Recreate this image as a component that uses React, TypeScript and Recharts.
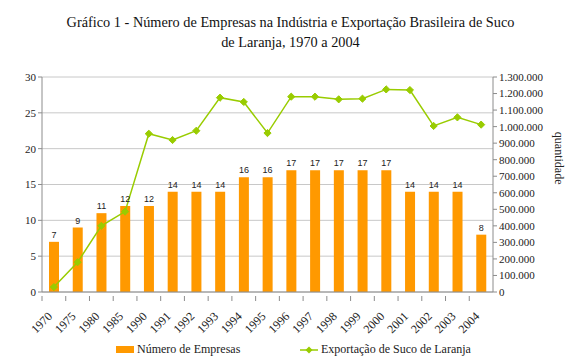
import {
  ComposedChart, Bar, Line, XAxis, YAxis, CartesianGrid, LabelList,
} from "recharts";

const years = [
  "1970", "1975", "1980", "1985", "1990", "1991", "1992", "1993", "1994", "1995",
  "1996", "1997", "1998", "1999", "2000", "2001", "2002", "2003", "2004",
];
const empresas = [7, 9, 11, 12, 12, 14, 14, 14, 16, 16, 17, 17, 17, 17, 17, 14, 14, 14, 8];
const exportacao = [
  30000, 180000, 400000, 486000, 957000, 919000, 975000, 1175000, 1149000, 961000,
  1181000, 1181000, 1165000, 1169000, 1225000, 1221000, 1004000, 1056000, 1012000,
];
const leftTicks = [0, 5, 10, 15, 20, 25, 30];
const rightTicks = [
  0, 100000, 200000, 300000, 400000, 500000, 600000,
  700000, 800000, 900000, 1000000, 1100000, 1200000, 1300000,
];

const ORANGE = "#FF9900";
const GREEN = "#99CC00";
const AXIS = "#8c8c8c";
const GRID = "#c8c8c8";
const SERIF = "'Liberation Serif', 'Times New Roman', serif";
const SANS = "'Liberation Sans', Arial, sans-serif";

const data = years.map((y, i) => ({ year: y, empresas: empresas[i], exportacao: exportacao[i] }));

const fmtThousands = (v: number) => String(v).replace(/\B(?=(\d{3})+(?!\d))/g, ".");

function YearTick(props: any) {
  const { x, y, payload } = props;
  const half = payload.offset ?? 11.87;
  return (
    <g>
      <line x1={x - half} x2={x - half} y1={y - 4} y2={y + 1} stroke={AXIS} />
      <text
        transform={`translate(${x - 1},${y + 17}) rotate(-45)`}
        textAnchor="end"
        fontFamily={SERIF}
        fontSize={12}
        fill="#222"
      >
        {payload.value}
      </text>
    </g>
  );
}

function Diamond(props: any) {
  const { cx, cy } = props;
  if (cx == null || cy == null) return null;
  const r = 3.6;
  return (
    <polygon
      points={`${cx},${cy - r} ${cx + r},${cy} ${cx},${cy + r} ${cx - r},${cy}`}
      fill={GREEN}
      stroke={GREEN}
    />
  );
}

function LegendBox() {
  return (
    <div style={{
      position: "absolute", left: 0, top: 343, width: 581, height: 16,
      fontFamily: SERIF, fontSize: 12, color: "#222",
    }}>
      <div style={{ position: "absolute", left: 116, top: 3, width: 18, height: 7, background: ORANGE }} />
      <span style={{ position: "absolute", left: 137, top: -1 }}>Número de Empresas</span>
      <svg style={{ position: "absolute", left: 300, top: 0 }} width={20} height={14}>
        <line x1={0} x2={18} y1={7} y2={7} stroke={GREEN} strokeWidth={1.5} />
        <polygon points="9,3.5 12.5,7 9,10.5 5.5,7" fill={GREEN} />
      </svg>
      <span style={{ position: "absolute", left: 321, top: -1 }}>Exportação de Suco de Laranja</span>
    </div>
  );
}

export default function App() {
  return (
    <div style={{ position: "absolute", left: 0, top: 0, width: 581, height: 362, background: "#fff" }}>
      <div style={{
        position: "absolute", left: 0, top: 12, width: 581, textAlign: "center",
        fontFamily: SERIF, fontSize: 14.3, lineHeight: "20px", color: "#111",
      }}>
        Gráfico 1 - Número de Empresas na Indústria e Exportação Brasileira de Suco
        <br />
        de Laranja, 1970 a 2004
      </div>
      <ComposedChart
        width={581}
        height={362}
        data={data}
        margin={{ top: 77, right: 0, left: 0, bottom: 30 }}
        barCategoryGap={0}
      >
        <CartesianGrid yAxisId="left" vertical={false} stroke={GRID} />
        <XAxis
          dataKey="year"
          interval={0}
          height={40}
          tick={<YearTick />}
          tickLine={false}
          axisLine={{ stroke: AXIS }}
        />
        <YAxis
          yAxisId="left"
          width={42}
          domain={[0, 30]}
          ticks={leftTicks}
          interval={0}
          tick={{ fontFamily: SERIF, fontSize: 11, fill: "#222" }}
          tickSize={4}
          tickLine={{ stroke: AXIS }}
          axisLine={{ stroke: AXIS }}
        />
        <YAxis
          yAxisId="right"
          orientation="right"
          width={88}
          domain={[0, 1300000]}
          ticks={rightTicks}
          interval={0}
          tickFormatter={fmtThousands}
          tick={{ fontFamily: SERIF, fontSize: 11, fill: "#222" }}
          tickSize={4}
          tickLine={{ stroke: AXIS }}
          axisLine={{ stroke: AXIS }}
          label={{
            value: "quantidade", angle: 90, position: "insideRight", offset: 22,
            style: { fontFamily: SERIF, fontSize: 12, fill: "#222" },
          }}
        />
        <Bar yAxisId="left" dataKey="empresas" fill={ORANGE} barSize={10} isAnimationActive={false}>
          <LabelList
            dataKey="empresas"
            position="top"
            offset={4}
            style={{ fontFamily: SANS, fontSize: 9, fill: "#222" }}
          />
        </Bar>
        <Line
          yAxisId="right"
          dataKey="exportacao"
          stroke={GREEN}
          strokeWidth={1.5}
          dot={<Diamond />}
          activeDot={false}
          isAnimationActive={false}
        />
      </ComposedChart>
      <LegendBox />
    </div>
  );
}
